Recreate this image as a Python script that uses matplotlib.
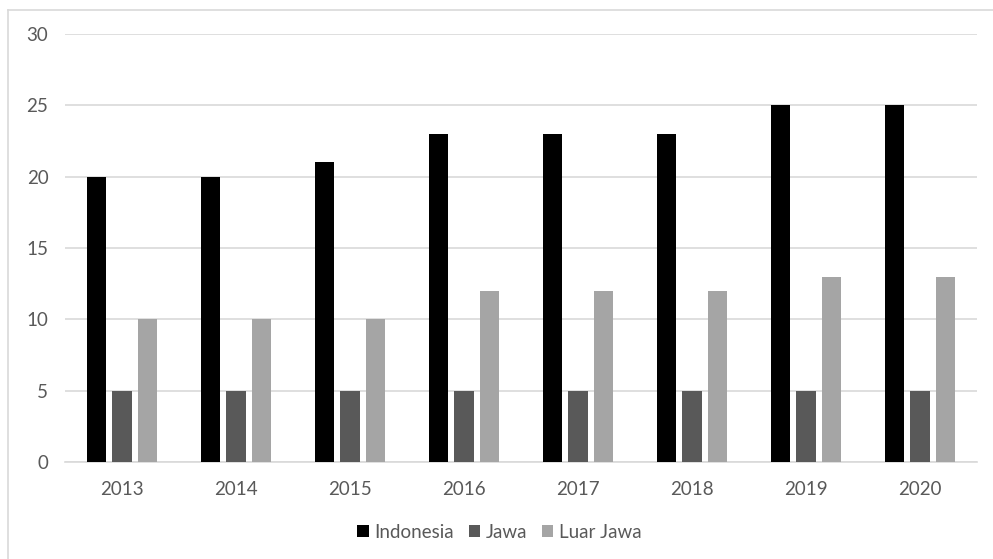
import numpy as np
import matplotlib.pyplot as plt
from matplotlib.lines import Line2D

years = ["2013", "2014", "2015", "2016", "2017", "2018", "2019", "2020"]
indonesia = [20, 20, 21, 23, 23, 23, 25, 25]
jawa = [5, 5, 5, 5, 5, 5, 5, 5]
luar_jawa = [10, 10, 10, 12, 12, 12, 13, 13]

plt.rcParams['font.family'] = ['Lato', 'DejaVu Sans']

fig = plt.figure(figsize=(9.93, 5.59), dpi=100)
ax = fig.add_axes([0.0655, 0.1735, 0.9185, 0.7657])

x = np.arange(len(years))
w = 0.172
step = 0.224
series = [("Indonesia", indonesia, "#000000"),
          ("Jawa", jawa, "#595959"),
          ("Luar Jawa", luar_jawa, "#a5a5a5")]
for i, (name, vals, col) in enumerate(series):
    ax.bar(x + (i - 1) * step, vals, width=w, color=col, label=name, zorder=3)

ax.set_xlim(-0.5, len(years) - 0.5)
ax.set_ylim(0, 30)
ax.set_yticks(range(0, 31, 5))
ax.set_xticks(x)
ax.set_xticklabels(years)
ax.yaxis.grid(True, color="#d9d9d9", linewidth=1.2, zorder=0)
for s in ["top", "right", "left"]:
    ax.spines[s].set_visible(False)
ax.spines["bottom"].set_color("#d9d9d9")
ax.spines["bottom"].set_linewidth(1.2)
ax.tick_params(axis="both", length=0, colors="#595959", labelsize=13.5)
ax.tick_params(axis="x", pad=14)
ax.tick_params(axis="y", pad=12)

leg = fig.legend(loc="center", bbox_to_anchor=(0.503, 0.048), ncol=3, frameon=False,
                 fontsize=13.5, handlelength=0.6, handleheight=0.6, handletextpad=0.3,
                 columnspacing=0.8)
for t in leg.get_texts():
    t.set_color("#595959")

# outer chart border (top and left visible)
fig.add_artist(Line2D([8 / 993, 1], [1 - 10 / 559, 1 - 10 / 559], color="#d9d9d9", lw=1.2,
                      transform=fig.transFigure))
fig.add_artist(Line2D([8 / 993, 8 / 993], [0, 1 - 10 / 559], color="#d9d9d9", lw=1.2,
                      transform=fig.transFigure))

fig.savefig("out.png", dpi=100)
